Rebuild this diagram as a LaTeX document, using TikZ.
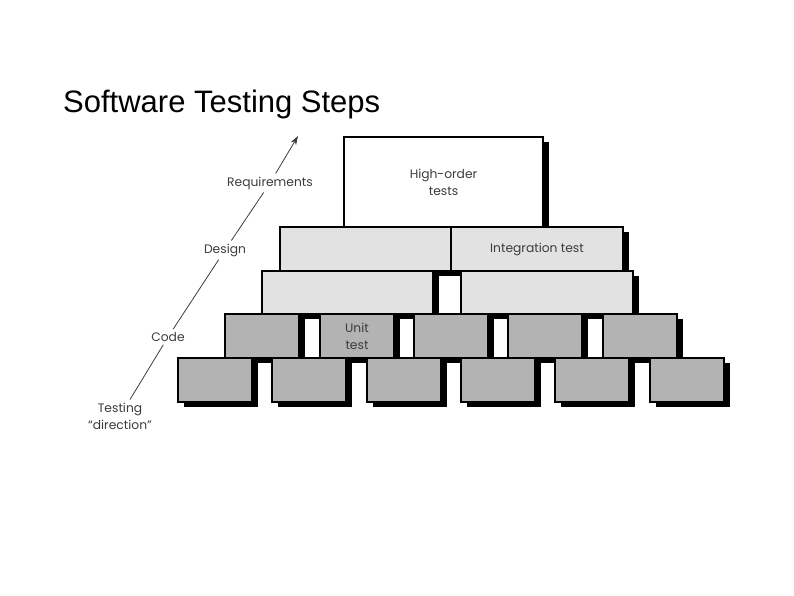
\documentclass[tikz,border=0pt]{standalone}
\usepackage{fontspec}
\setmainfont{Liberation Sans}
\newfontfamily\diagfont{Poppins}
\usetikzlibrary{shadows,arrows.meta}
\definecolor{lightblk}{HTML}{E2E2E2}
\definecolor{darkblk}{HTML}{B3B3B3}
\definecolor{labeltxt}{HTML}{3C3C3C}
\begin{document}
\begin{tikzpicture}[x=1pt,y=-1pt,
  blk/.style={draw=black, line width=1.1pt, anchor=north west, inner sep=0pt, outer sep=0pt,
    minimum height=#1, align=center, font=\diagfont\fontsize{12.3}{17}\selectfont, text=labeltxt,
    drop shadow={shadow xshift=6pt, shadow yshift=-5pt, fill=black, opacity=1}},
  toprow/.style={blk=90pt, fill=white, minimum width=199pt},
  midrow/.style={blk=44pt, fill=lightblk},
  lowrow/.style={blk=44pt, fill=darkblk, minimum width=74pt},
  dirlabel/.style={font=\diagfont\fontsize{12.3}{17}\selectfont, text=labeltxt, inner sep=3pt, align=center},
  dirline/.style={draw=labeltxt, line width=0.8pt}
]
\useasboundingbox (0,0) rectangle (794,595);
\fill[white] (0,0) rectangle (794,595);

\node[anchor=base west, font=\fontsize{31}{36}\selectfont, inner sep=0pt] (title) at (63,112) {Software Testing Steps};

% row 1
\node[toprow] (hot) at (344,137) {High-order\\tests};
% row 2
\node[midrow, minimum width=171pt] (r2a) at (280,227) {};
\node[midrow, minimum width=172pt] (r2b) at (451,227) {Integration test};
% row 3
\node[midrow, minimum width=171pt, minimum height=43pt] (r3a) at (262,271) {};
\node[midrow, minimum width=172pt, minimum height=43pt] (r3b) at (461,271) {};
% row 4
\node[lowrow] (r4a) at (225,314) {};
\node[lowrow] (r4b) at (320,314) {Unit\\test};
\node[lowrow] (r4c) at (414,314) {};
\node[lowrow] (r4d) at (508,314) {};
\node[lowrow] (r4e) at (603,314) {};
% row 5
\node[lowrow] (r5a) at (178,358) {};
\node[lowrow] (r5b) at (272,358) {};
\node[lowrow] (r5c) at (367,358) {};
\node[lowrow] (r5d) at (461,358) {};
\node[lowrow] (r5e) at (555,358) {};
\node[lowrow] (r5f) at (650,358) {};

% testing direction
\node[dirlabel] (dir) at (120,416) {Testing\\\char"201C direction\char"201D};
\node[dirlabel] (code) at (168,337) {Code};
\node[dirlabel] (design) at (225,250) {Design};
\node[dirlabel] (req) at (270,183) {Requirements};
\coordinate (tip) at (298,136);
\draw[dirline] (dir) -- (code);
\draw[dirline] (code) -- (design);
\draw[dirline] (design) -- (req);
\draw[dirline, -{Stealth[length=9pt,width=6pt]}] (req) -- (tip);
\end{tikzpicture}
\end{document}
